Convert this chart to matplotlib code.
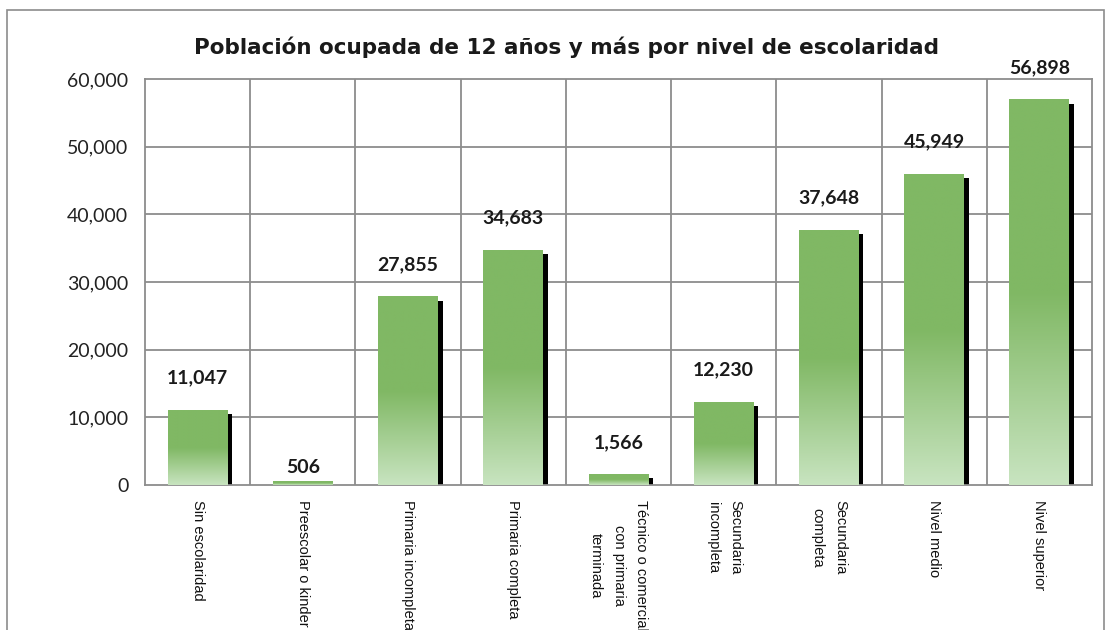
import matplotlib.pyplot as plt
import matplotlib.transforms as mtransforms
from matplotlib.colors import to_rgb
from matplotlib.patches import Rectangle
import numpy as np

categories = ["Sin escolaridad",
              "Preescolar o kinder",
              "Primaria incompleta",
              "Primaria completa",
              "Técnico o comercial\ncon primaria\nterminada",
              "Secundaria\nincompleta",
              "Secundaria\ncompleta",
              "Nivel medio",
              "Nivel superior"]
values = [11047, 506, 27855, 34683, 1566, 12230, 37648, 45949, 56898]
yticks = [0, 10000, 20000, 30000, 40000, 50000, 60000]
title = "Población ocupada de 12 años y más por nivel de escolaridad"

GREEN = "#80b864"
LIGHT = "#c8e4c0"
GRID = "#8c8c8c"
BAR_W = 0.57


def gradientImage():
    # top half solid, bottom half fades to light green
    n = 200
    top = np.array(to_rgb(GREEN))
    bot = np.array(to_rgb(LIGHT))
    t = np.clip((np.arange(n) / (n - 1) - 0.5) / 0.5, 0, 1)
    rows = top[None, :] * (1 - t[:, None]) + bot[None, :] * t[:, None]
    return rows[:, None, :]


def createPlot():
    fig = plt.figure(figsize=(11.13, 6.3), dpi=100)
    ax = fig.add_axes([145 / 1113, 1 - 485 / 630, 947 / 1113, 406 / 630])

    # outer frame of the chart
    fig.add_artist(Rectangle((7 / 1113, -0.05), 1097 / 1113, 1.05 - 10 / 630,
                             transform=fig.transFigure, fill=False,
                             edgecolor="#8c8c8c", lw=1.2))

    x = np.arange(len(values))
    shadow = ax.transData + mtransforms.ScaledTranslation(0.045, -0.04, fig.dpi_scale_trans)
    grad = gradientImage()
    for xi, v in zip(x, values):
        ax.bar(xi, v, width=BAR_W, color="black", transform=shadow, zorder=2)
        ax.imshow(grad, extent=[xi - BAR_W / 2, xi + BAR_W / 2, 0, v],
                  aspect="auto", zorder=3, interpolation="bilinear")
        ax.annotate(f"{v:,}", (xi, v), xytext=(0, 17 if v > 1000 else 4),
                    textcoords="offset points", ha="center", va="bottom",
                    fontsize=14, fontweight="bold", family="Lato", color="#1a1a1a",
                    zorder=4)

    ax.set_xlim(-0.5, len(values) - 0.5)
    ax.set_ylim(0, 60000)
    ax.set_yticks(yticks)
    ax.set_yticklabels([f"{t:,}" for t in yticks], family="Lato", fontsize=14,
                       color="#222222")
    ax.set_xticks(x)
    ax.set_xticklabels(categories, rotation=270, ha="center", va="top",
                       multialignment="center", family="Liberation Sans",
                       fontsize=10.5, color="#111111", linespacing=1.75)
    ax.tick_params(axis="y", length=0, pad=12)
    ax.tick_params(axis="x", length=0, pad=11)

    for b in np.arange(0.5, len(values) - 0.5, 1.0):
        ax.axvline(b, color=GRID, lw=1.3, zorder=1)
    for t in yticks[1:-1]:
        ax.axhline(t, color=GRID, lw=1.3, zorder=1)
    for s in ax.spines.values():
        s.set_color(GRID)
        s.set_linewidth(1.3)

    fig.text(566 / 1113, 1 - 47 / 630, title, ha="center", va="center",
             fontsize=15.5, fontweight="bold", family="DejaVu Sans", color="#1a1a1a")

    plt.savefig("out.png", dpi=100)


if __name__ == "__main__":
    createPlot()
